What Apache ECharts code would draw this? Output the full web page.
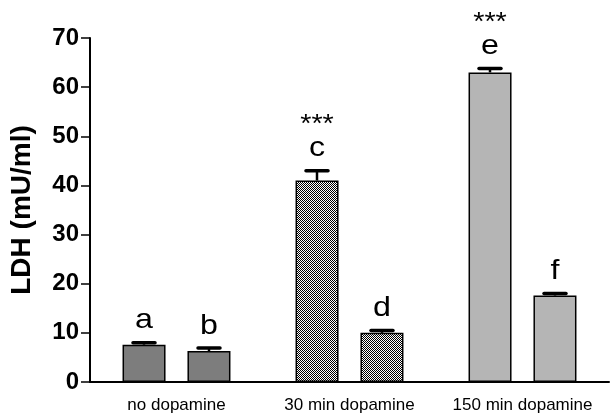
<!DOCTYPE html>
<html>
<head>
<meta charset="utf-8">
<script src="https://cdn.jsdelivr.net/npm/echarts@6/dist/echarts.min.js"></script>
<style>html,body{margin:0;padding:0;background:#fff}#c{width:610px;height:414px}</style>
</head>
<body>
<div id="c"></div>
<script>
var categories = ['no dopamine', '30 min dopamine', '150 min dopamine'];
var series1 = [7.6, 41.0, 63.0];
var series1Err = [0.4, 2.0, 0.8];
var series1Letters = ['a', 'c', 'e'];
var series1Stars = ['', '***', '***'];
var series2 = [6.3, 10.0, 17.6];
var series2Err = [0.6, 0.5, 0.4];
var series2Letters = ['b', 'd', 'f'];
var series2Stars = ['', '', ''];
var yTicks = [0, 10, 20, 30, 40, 50, 60, 70];

var FONT = 'Liberation Sans, Arial, sans-serif';
var BAR_W = 43;
var OFFSET = 32.5;

// checkerboard pattern for 30 min bars
var pc = document.createElement('canvas');
pc.width = 2; pc.height = 2;
var pctx = pc.getContext('2d');
pctx.fillStyle = '#ffffff'; pctx.fillRect(0, 0, 2, 2);
pctx.fillStyle = '#000000'; pctx.fillRect(0, 0, 1, 1); pctx.fillRect(1, 1, 1, 1);
var catColors = ['#7d7d7d', {image: pc, repeat: 'repeat'}, '#b5b5b5'];

function barData(vals) {
  return vals.map(function (v, i) {
    return {value: v, itemStyle: {color: catColors[i]}};
  });
}
function errData(vals, errs) {
  return vals.map(function (v, i) { return [i, v, errs[i]]; });
}
function makeRender(sign, letters, stars) {
  return function (params, api) {
    var ci = api.value(0), v = api.value(1), e = api.value(2);
    var base = api.coord([ci, v]);
    var top = api.coord([ci, v + e]);
    var x = base[0] + sign * OFFSET;
    var ch = [
      {type: 'line', shape: {x1: x, y1: base[1], x2: x, y2: top[1]}, style: {stroke: '#000', lineWidth: 2.5}},
      {type: 'line', shape: {x1: x - 11, y1: top[1], x2: x + 11, y2: top[1]}, style: {stroke: '#000', lineWidth: 3.5, lineCap: 'round'}},
      {type: 'text', x: x, y: top[1] - 8, scaleX: 1.15, scaleY: 1,
        style: {text: letters[params.dataIndex], x: 0, y: 0, textAlign: 'center', textVerticalAlign: 'bottom', font: '28px ' + FONT, fill: '#000'}}
    ];
    if (stars[params.dataIndex]) {
      ch.push({type: 'text', x: x, y: top[1] - 33, scaleX: 1.15, scaleY: 1,
        style: {text: stars[params.dataIndex], x: 0, y: 0, textAlign: 'center', textVerticalAlign: 'bottom', font: '25px ' + FONT, fill: '#000'}});
    }
    return {type: 'group', children: ch};
  };
}

var chart = echarts.init(document.getElementById('c'), null, {renderer: 'canvas'});
chart.setOption({
  animation: false,
  backgroundColor: '#fff',
  grid: {left: 90, right: 1, top: 38, bottom: 32, containLabel: false},
  xAxis: {
    type: 'category',
    data: categories,
    axisLine: {lineStyle: {color: '#000', width: 2}},
    axisTick: {alignWithLabel: true, interval: 0, length: 7, lineStyle: {color: '#000', width: 1.5}},
    axisLabel: {color: '#000', fontSize: 17, fontFamily: FONT, margin: 15, interval: 0, hideOverlap: false}
  },
  yAxis: {
    type: 'value',
    min: 0, max: 70, interval: 10,
    name: 'LDH (mU/ml)',
    nameLocation: 'middle',
    nameGap: 54,
    nameTextStyle: {color: '#000', fontSize: 28, fontWeight: 'bold', fontFamily: FONT},
    axisLine: {show: true, lineStyle: {color: '#000', width: 2}},
    axisTick: {show: true, length: 9, lineStyle: {color: '#000', width: 1.5}},
    axisLabel: {color: '#000', fontSize: 24, fontWeight: 'bold', fontFamily: FONT, margin: 11,
      formatter: function (v) { return yTicks.indexOf(v) >= 0 ? String(v) : ''; }},
    splitLine: {show: false}
  },
  series: [
    {type: 'bar', data: barData(series1), barWidth: BAR_W, barGap: '51%',
      itemStyle: {borderColor: '#000', borderWidth: 1.5}},
    {type: 'bar', data: barData(series2), barWidth: BAR_W,
      itemStyle: {borderColor: '#000', borderWidth: 1.5}},
    {type: 'custom', renderItem: makeRender(-1, series1Letters, series1Stars), data: errData(series1, series1Err), z: 5},
    {type: 'custom', renderItem: makeRender(1, series2Letters, series2Stars), data: errData(series2, series2Err), z: 5}
  ]
});
</script>
</body>
</html>
